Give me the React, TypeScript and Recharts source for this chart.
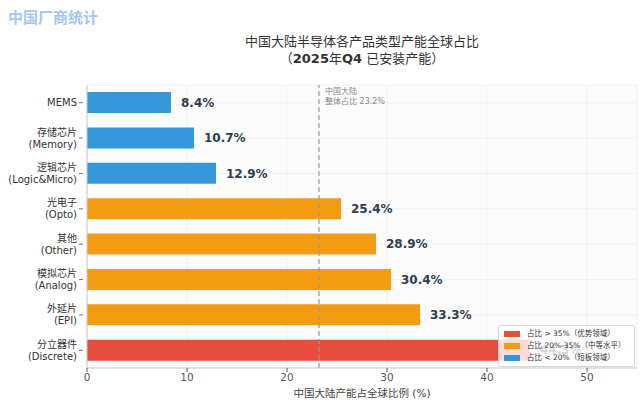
import React from "react";
import {
  BarChart,
  Bar,
  XAxis,
  YAxis,
  CartesianGrid,
  Cell,
  LabelList,
  ReferenceLine,
} from "recharts";

const categories = [
  "MEMS",
  "存储芯片\n(Memory)",
  "逻辑芯片\n(Logic&Micro)",
  "光电子\n(Opto)",
  "其他\n(Other)",
  "模拟芯片\n(Analog)",
  "外延片\n(EPI)",
  "分立器件\n(Discrete)",
];
const shares = [8.4, 10.7, 12.9, 25.4, 28.9, 30.4, 33.3, 44.3];
const overallShare = 23.2;
const xTicks = [0, 10, 20, 30, 40, 50];

const RED = "#e74c3c";
const ORANGE = "#f39c12";
const BLUE = "#3498db";
const FONT = '"DejaVu Sans", "Noto Sans CJK SC", sans-serif';

const data = categories.map((name, i) => ({ name, value: shares[i] }));

const colorFor = (v: number) => (v > 35 ? RED : v >= 20 ? ORANGE : BLUE);

const legendItems = [
  { color: RED, text: "占比 > 35%（优势领域）" },
  { color: ORANGE, text: "占比 20%-35%（中等水平）" },
  { color: BLUE, text: "占比 < 20%（短板领域）" },
];

function CategoryTick(props: any) {
  const { x, y, payload } = props;
  const lines: string[] = String(payload.value).split("\n");
  const start = -((lines.length - 1) * 12) / 2;
  return (
    <g>
      <line x1={x} x2={x + 4} y1={y} y2={y} stroke="#555" strokeWidth={0.8} />
      <text x={x - 2} y={y} textAnchor="end" fontSize={10} fill="#333" fontFamily={FONT}>
        {lines.map((l, i) => (
          <tspan key={i} x={x - 2} dy={i === 0 ? start + 3.5 : 12}>
            {l}
          </tspan>
        ))}
      </text>
    </g>
  );
}

export default function App() {
  return (
    <div
      style={{
        position: "absolute",
        left: 0,
        top: 0,
        width: 640,
        height: 405,
        background: "#fff",
        fontFamily: FONT,
      }}
    >
      <div
        style={{
          position: "absolute",
          left: 8,
          top: 6,
          fontSize: 15,
          fontWeight: "bold",
          color: "#a3c6f5",
        }}
      >
        中国厂商统计
      </div>
      <div
        style={{
          position: "absolute",
          left: 87,
          width: 550,
          top: 33,
          textAlign: "center",
          fontSize: 13,
          lineHeight: "17px",
          color: "#333",
        }}
      >
        <div>中国大陆半导体各产品类型产能全球占比</div>
        <div>
          （<b>2025</b>年<b>Q4</b> 已安装产能）
        </div>
      </div>

      <div style={{ position: "absolute", left: 0, top: 0 }}>
        <BarChart
          width={640}
          height={405}
          data={data}
          layout="vertical"
          margin={{ top: 85, right: 3, bottom: 0, left: 0 }}
        >
          <CartesianGrid stroke="#ececec" strokeWidth={0.7} fill="#fcfcfc" />
          <XAxis
            type="number"
            domain={[0, 55]}
            ticks={xTicks}
            height={37}
            tick={{ fontSize: 10.5, fill: "#555", fontFamily: FONT }}
            tickSize={4}
            tickLine={{ stroke: "#555" }}
            axisLine={{ stroke: "#ccc" }}
            allowDataOverflow
          />
          <YAxis
            type="category"
            dataKey="name"
            width={87}
            tick={<CategoryTick />}
            tickLine={false}
            axisLine={{ stroke: "#ccc" }}
            interval={0}
          />
          <ReferenceLine
            x={overallShare}
            stroke="#999"
            strokeWidth={1.2}
            strokeDasharray="5 3"
            label={(p: any) => {
              const { viewBox } = p;
              return (
                <text
                  x={viewBox.x + 6}
                  y={viewBox.y + 9}
                  fontSize={8}
                  fill="#888"
                  fontFamily={FONT}
                >
                  <tspan x={viewBox.x + 6} dy={0}>
                    中国大陆
                  </tspan>
                  <tspan x={viewBox.x + 6} dy={10}>
                    {`整体占比 ${overallShare}%`}
                  </tspan>
                </text>
              );
            }}
          />
          <Bar dataKey="value" barSize={21} isAnimationActive={false}>
            {data.map((d, i) => (
              <Cell key={i} fill={colorFor(d.value)} />
            ))}
            <LabelList
              dataKey="value"
              position="right"
              offset={10}
              formatter={(v: any) => `${v}%`}
              style={{
                fontSize: 12,
                fontWeight: "bold",
                fill: "#2c3e50",
                fontFamily: FONT,
              }}
            />
          </Bar>
        </BarChart>
      </div>

      <div
        style={{
          position: "absolute",
          left: 87,
          width: 550,
          top: 385,
          textAlign: "center",
          fontSize: 10.5,
          color: "#444",
        }}
      >
        中国大陆产能占全球比例 (%)
      </div>

      <div
        style={{
          position: "absolute",
          left: 498,
          top: 325,
          width: 137,
          padding: "2px 0 2px 5px",
          boxSizing: "border-box",
          background: "rgba(255,255,255,0.8)",
          border: "1px solid #d6d6d6",
          borderRadius: 3,
          fontSize: 7.5,
          lineHeight: "12px",
          color: "#333",
        }}
      >
        {legendItems.map((it) => (
          <div
            key={it.text}
            style={{
              display: "flex",
              alignItems: "center",
              height: 12,
              lineHeight: "12px",
              whiteSpace: "nowrap",
            }}
          >
            <span
              style={{
                display: "inline-block",
                width: 16,
                height: 6,
                background: it.color,
                marginRight: 7,
                flexShrink: 0,
              }}
            />
            <span>{it.text}</span>
          </div>
        ))}
      </div>
    </div>
  );
}
